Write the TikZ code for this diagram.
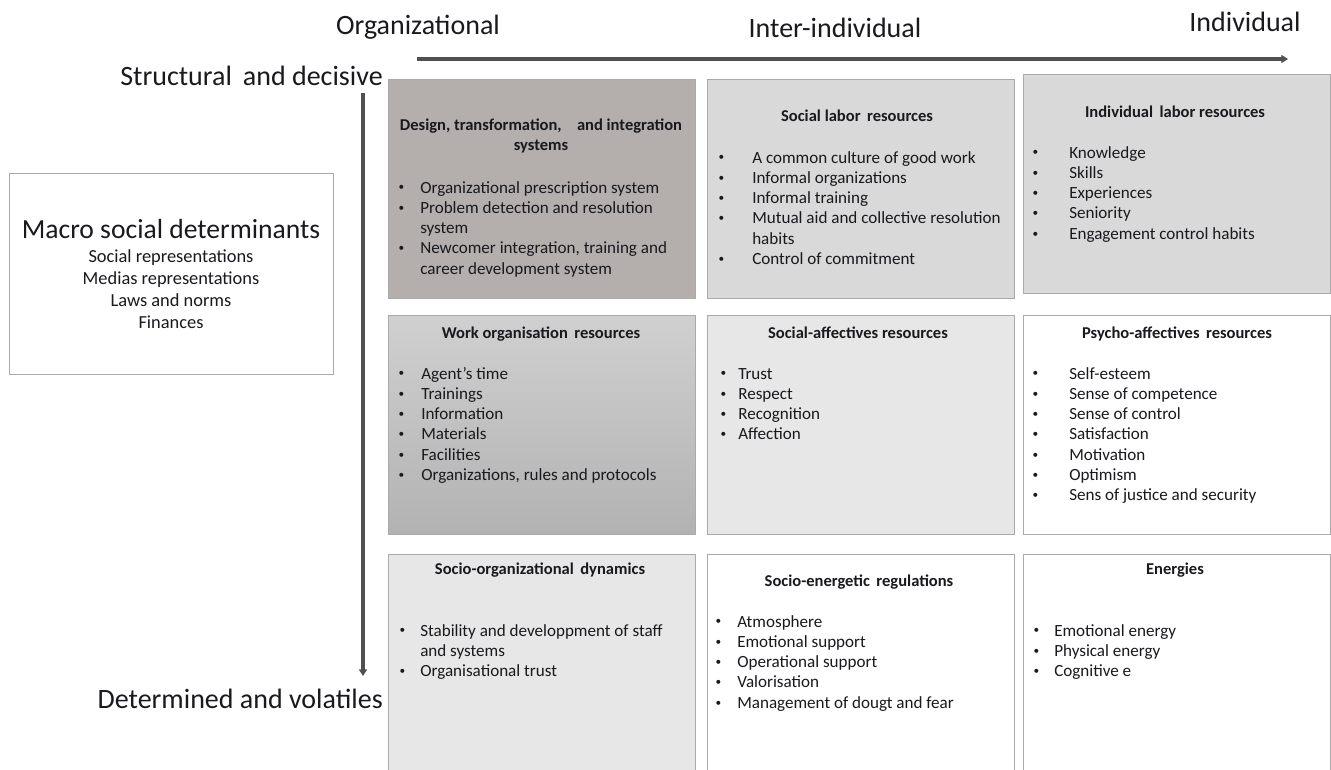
\documentclass[tikz,border=0pt]{standalone}
\usepackage{fontspec}
\setmainfont{Carlito}
\usetikzlibrary{arrows.meta}

\definecolor{cellline}{RGB}{170,170,170}
\definecolor{darkcell}{RGB}{180,174,172}
\definecolor{greycell}{RGB}{217,217,217}
\definecolor{palecell}{RGB}{231,231,231}
\definecolor{worktop}{RGB}{208,208,208}
\definecolor{workbot}{RGB}{178,178,178}
\definecolor{axisgrey}{RGB}{80,80,80}
\definecolor{inkgrey}{RGB}{25,25,30}

\newlength{\bulletgap}
\newcommand{\bul}[1]{\makebox[\bulletgap][l]{\hspace{1pt}\raisebox{0.25ex}{\fontsize{8.5}{8.5}\selectfont\textbullet}}#1}
\newcommand{\cont}[1]{\hspace*{\bulletgap}#1}
\newcommand{\bullets}[2]{\setlength{\bulletgap}{#1}\begin{tabular}[t]{@{}l@{}}#2\end{tabular}}

\tikzset{
  cell/.style={draw=cellline, line width=0.9pt, anchor=north west, inner sep=0pt,
    minimum width=230.25pt, minimum height=164.25pt},
  celltitle/.style={anchor=base, inner sep=0pt, text=inkgrey,
    font=\fontsize{12.4}{15.2}\selectfont\bfseries},
  celllist/.style={anchor=base west, inner sep=0pt, text=inkgrey,
    font=\fontsize{12.8}{15.2}\selectfont},
  axislabel/.style={inner sep=0pt, text=inkgrey, font=\fontsize{21}{25}\selectfont},
  axis/.style={draw=axisgrey, line width=2.6pt, -{Triangle[length=5pt,width=6pt]}}
}

\begin{document}
\begin{tikzpicture}[x=0.75pt,y=-0.75pt]
\useasboundingbox (0,0) rectangle (1331,769);

% axes
\node[axislabel, anchor=base] (orglab) at (418,34) {Organizational};
\node[axislabel, anchor=base] (interlab) at (835,37) {Inter-individual};
\node[axislabel, anchor=base] (indlab) at (1245,31) {Individual};
\node[axislabel, anchor=base east] (structlab) at (383,85) {Structural\, and decisive};
\node[axislabel, anchor=base east] (detlab) at (383,708) {Determined and volatiles};
\coordinate (hstart) at (417,59);
\coordinate (hend) at (1288,59);
\coordinate (vstart) at (363,93);
\coordinate (vend) at (363,676);
\draw[axis] (hstart) -- (hend);
\draw[axis] (vstart) -- (vend);

% macro box
\node[cell, fill=white, minimum width=243pt, minimum height=150.75pt] (macro) at (9,173) {};
\node[anchor=base, inner sep=0pt, text=inkgrey, font=\fontsize{20.7}{25}\selectfont] (macrotitle) at (171,238) {Macro social determinants};
\node[anchor=base, inner sep=0pt, text=inkgrey, font=\fontsize{13.8}{16.5}\selectfont] (macrolist) at (171,262)
  {\begin{tabular}[t]{@{}c@{}}Social representations\\ Medias representations\\ Laws and norms\\ Finances\end{tabular}};

% first row
\node[cell, fill=darkcell] (designsys) at (388,79) {};
\node[celltitle] (designtitle) at (541,130)
  {\begin{tabular}[t]{@{}c@{}}Design, transformation,\hspace{0.7em} and integration\\ systems\end{tabular}};
\node[celllist] (designlist) at (397,193) {\bullets{17.25pt}{%
  \bul{Organizational prescription system}\\
  \bul{Problem detection and resolution}\\
  \cont{system}\\
  \bul{Newcomer integration, training and}\\
  \cont{career development system}}};

\node[cell, fill=greycell] (sociallab) at (707,79) {};
\node[celltitle] (sociallabtitle) at (857,121) {Social labor\, resources};
\node[celllist] (sociallablist) at (717,163) {\bullets{26.25pt}{%
  \bul{A common culture of good work}\\
  \bul{Informal organizations}\\
  \bul{Informal training}\\
  \bul{Mutual aid and collective resolution}\\
  \cont{habits}\\
  \bul{Control of commitment}}};

\node[cell, fill=greycell] (indivlab) at (1023,74) {};
\node[celltitle] (indivlabtitle) at (1175,117) {Individual\, labor resources};
\node[celllist] (indivlablist) at (1031,158) {\bullets{28.5pt}{%
  \bul{Knowledge}\\
  \bul{Skills}\\
  \bul{Experiences}\\
  \bul{Seniority}\\
  \bul{Engagement control habits}}};

% second row
\node[cell, top color=worktop, bottom color=workbot] (workorg) at (388,315) {};
\node[celltitle] (workorgtitle) at (541,338) {Work organisation\, resources};
\node[celllist] (workorglist) at (397,379) {\bullets{18pt}{%
  \bul{Agent's time}\\
  \bul{Trainings}\\
  \bul{Information}\\
  \bul{Materials}\\
  \bul{Facilities}\\
  \bul{Organizations, rules and protocols}}};

\node[cell, fill=palecell] (socaff) at (707,315) {};
\node[celltitle] (socafftitle) at (858,338) {Social-affectives resources};
\node[celllist] (socafflist) at (719,379) {\bullets{14.25pt}{%
  \bul{Trust}\\
  \bul{Respect}\\
  \bul{Recognition}\\
  \bul{Affection}}};

\node[cell, fill=white] (psyaff) at (1023,315) {};
\node[celltitle] (psyafftitle) at (1177,338) {Psycho-affectives\, resources};
\node[celllist] (psyafflist) at (1031,379) {\bullets{28.5pt}{%
  \bul{Self-esteem}\\
  \bul{Sense of competence}\\
  \bul{Sense of control}\\
  \bul{Satisfaction}\\
  \bul{Motivation}\\
  \bul{Optimism}\\
  \bul{Sens of justice and security}}};

% third row
\node[cell, fill=palecell, minimum height=168pt] (sociodyn) at (388,554) {};
\node[celltitle] (sociodyntitle) at (540,574) {Socio-organizational\, dynamics};
\node[celllist] (sociodynlist) at (398,636) {\bullets{16.5pt}{%
  \bul{Stability and developpment of staff}\\
  \cont{and systems}\\
  \bul{Organisational trust}}};

\node[cell, fill=white, minimum height=168pt] (socioen) at (707,554) {};
\node[celltitle] (socioentitle) at (859,586) {Socio-energetic\, regulations};
\node[celllist] (socioenlist) at (714,627) {\bullets{17.25pt}{%
  \bul{Atmosphere}\\
  \bul{Emotional support}\\
  \bul{Operational support}\\
  \bul{Valorisation}\\
  \bul{Management of dougt and fear}}};

\node[cell, fill=white, minimum height=168pt] (energies) at (1023,554) {};
\node[celltitle] (energiestitle) at (1175,574) {Energies};
\node[celllist] (energieslist) at (1032,636) {\bullets{16.5pt}{%
  \bul{Emotional energy}\\
  \bul{Physical energy}\\
  \bul{Cognitive e}}};
\end{tikzpicture}
\end{document}
